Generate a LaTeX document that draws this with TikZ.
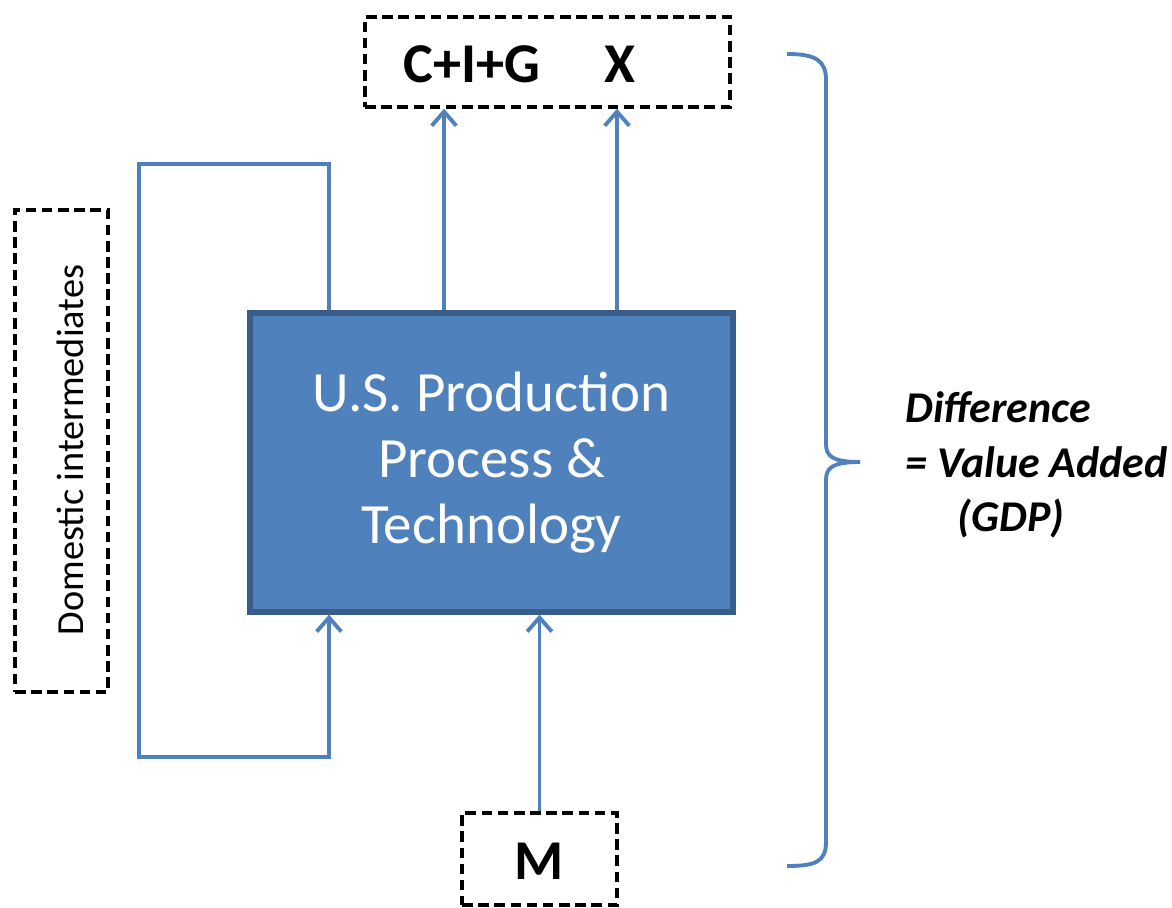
\documentclass[tikz,border=0pt]{standalone}
\usepackage{fontspec}
\setmainfont{Carlito}
\usetikzlibrary{arrows.meta}
\definecolor{lineblue}{HTML}{4F81BD}
\definecolor{boxblue}{HTML}{4F81BD}
\definecolor{boxedge}{HTML}{385D8A}
\tikzset{
  dashbox/.style={draw=black, line width=2pt, dash pattern=on 6pt off 3.2pt, inner sep=0pt},
  mainbox/.style={draw=boxedge, fill=boxblue, line width=3pt, inner sep=0pt, text=white, align=center, font=\fontsize{32.4}{37.5}\selectfont},
  conn/.style={draw=lineblue, line width=2.2pt},
  arr/.style={conn, -{Straight Barb[length=8pt, width=14pt, line width=2.2pt]}},
  bigbold/.style={font=\fontsize{32}{38}\selectfont\bfseries, inner sep=0pt}
}
\begin{document}
\begin{tikzpicture}[x=0.02cm, y=-0.02cm]
\useasboundingbox (0,0) rectangle (1172,908);
% boxes
\node[dashbox, minimum width=7.3cm, minimum height=1.8cm] (top) at (547.5,62) {};
\node[bigbold] (cig) at (472,64) {C+I+G};
\node[bigbold] (x) at (620,64) {X};
\node[mainbox, minimum width=9.66cm, minimum height=5.98cm] (main) at (491.5,462.5) {U.S. Production\\Process \&\\Technology};
\node[dashbox, minimum width=1.86cm, minimum height=9.64cm] (dom) at (61.5,451) {};
\node[rotate=90, font=\fontsize{21.8}{26}\selectfont, inner sep=0pt] (domtxt) at (70,450) {Domestic intermediates};
\node[dashbox, minimum width=3.1cm, minimum height=1.84cm] (m) at (539.5,859) {};
\node[bigbold] (mtxt) at (539.5,861) {M};
% connector coordinates
\coordinate (c1) at (444,0);
\coordinate (c2) at (617,0);
\coordinate (c3) at (329,0);
\coordinate (lt) at (139,164);
\coordinate (lb) at (139,757);
% arrows
\draw[arr] (main.north -| c1) -- (top.south -| c1);
\draw[arr] (main.north -| c2) -- (top.south -| c2);
\draw[arr] (main.north -| c3) |- (lt) -- (lb) -| (main.south -| c3);
\draw[arr] (m.north) -- (main.south -| m.north);
% brace
\draw[conn] (787,54) .. controls (815,54) and (826,60) .. (826,80) -- (826,444)
  .. controls (826,456) and (832,462) .. (860,462);
\draw[conn] (860,462) .. controls (832,462) and (826,468) .. (826,480) -- (826,842)
  .. controls (826,862) and (815,866) .. (787,866);
% label
\node[anchor=west, align=left, font=\fontsize{25}{31}\selectfont\bfseries\itshape, inner sep=0pt] (diff) at (905,465)
  {Difference\\= Value Added\\\hspace*{1.05cm}(GDP)};
\end{tikzpicture}
\end{document}
